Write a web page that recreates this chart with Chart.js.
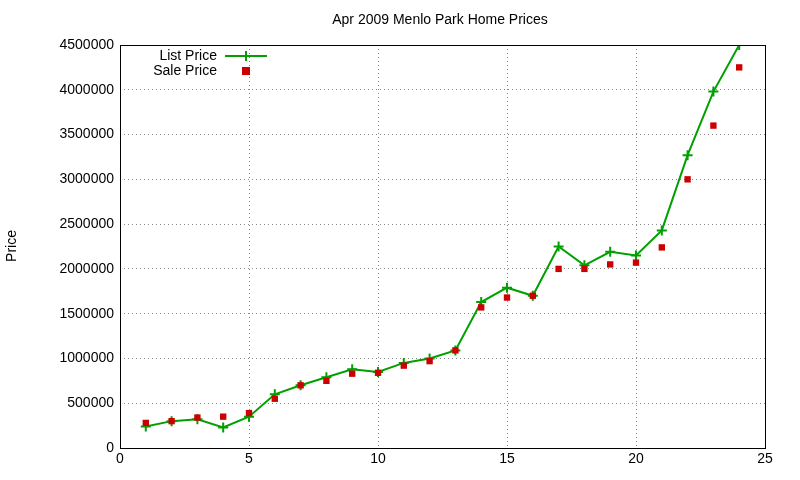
<!DOCTYPE html>
<html><head><meta charset="utf-8">
<script src="https://cdn.jsdelivr.net/npm/chart.js@4"></script>
<style>body{margin:0;background:#fff}#w{width:800px;height:480px}</style>
</head><body><div id="w"><canvas id="c"></canvas></div>
<script>
const xs=[1,2,3,4,5,6,7,8,9,10,11,12,13,14,15,16,17,18,19,20,21,22,23,24];
const listPrice=[240000,300000,320000,230000,350000,600000,700000,790000,880000,850000,950000,1000000,1090000,1630000,1790000,1700000,2250000,2040000,2190000,2150000,2430000,3270000,3980000,4500000];
const salePrice=[280000,300000,340000,350000,390000,550000,700000,750000,830000,840000,920000,970000,1090000,1570000,1680000,1700000,2000000,2000000,2050000,2070000,2240000,3000000,3600000,4250000];
const F='"Liberation Sans", Arial, sans-serif';
const deco={id:'deco',afterDraw(ch){const c=ch.ctx,a=ch.chartArea;c.save();
c.strokeStyle='#000';c.lineWidth=1;c.strokeRect(a.left+.5,a.top+.5,a.right-a.left,a.bottom-a.top);
c.fillStyle='#000';c.font='14px '+F;c.textAlign='center';c.textBaseline='middle';
c.fillText('Apr 2009 Menlo Park Home Prices',440,20);
c.save();c.translate(12,246);c.rotate(-Math.PI/2);c.fillText('Price',0,0);c.restore();
c.textAlign='right';c.fillText('List Price',217,56);c.fillText('Sale Price',217,71);
c.strokeStyle='#00a000';c.lineWidth=2;c.beginPath();c.moveTo(225,56);c.lineTo(267,56);c.moveTo(246,51);c.lineTo(246,61);c.stroke();
c.fillStyle='#cc0000';c.fillRect(242,67,8,8);c.restore();}};
new Chart(document.getElementById('c'),{type:'scatter',
data:{datasets:[
{data:salePrice.map((v,i)=>({x:xs[i],y:v})),showLine:false,pointStyle:'rect',pointRadius:4.5,backgroundColor:'#cc0000',borderColor:'#cc0000',borderWidth:0},
{data:listPrice.map((v,i)=>({x:xs[i],y:v})),showLine:true,borderColor:'#00a000',borderWidth:2,pointStyle:'cross',pointRadius:5,pointBorderColor:'#00a000',pointBorderWidth:2,backgroundColor:'#00a000'}]},
options:{animation:false,responsive:true,maintainAspectRatio:false,
layout:{padding:{top:45,right:35,left:0,bottom:0}},
plugins:{legend:{display:false},tooltip:{enabled:false}},
scales:{
x:{type:'linear',min:0,max:25,afterFit(s){s.height=32},ticks:{stepSize:5,color:'#000',font:{size:14,family:F}},
grid:{color:'#888',drawTicks:false},border:{display:false,dash:[1,3]}},
y:{min:0,max:4500000,afterFit(s){s.width=120},ticks:{stepSize:500000,color:'#000',font:{size:14,family:F},padding:6,callback:v=>String(v)},
grid:{color:'#888',drawTicks:false},border:{display:false,dash:[1,3]}}}},
plugins:[deco]});
</script></body></html>
